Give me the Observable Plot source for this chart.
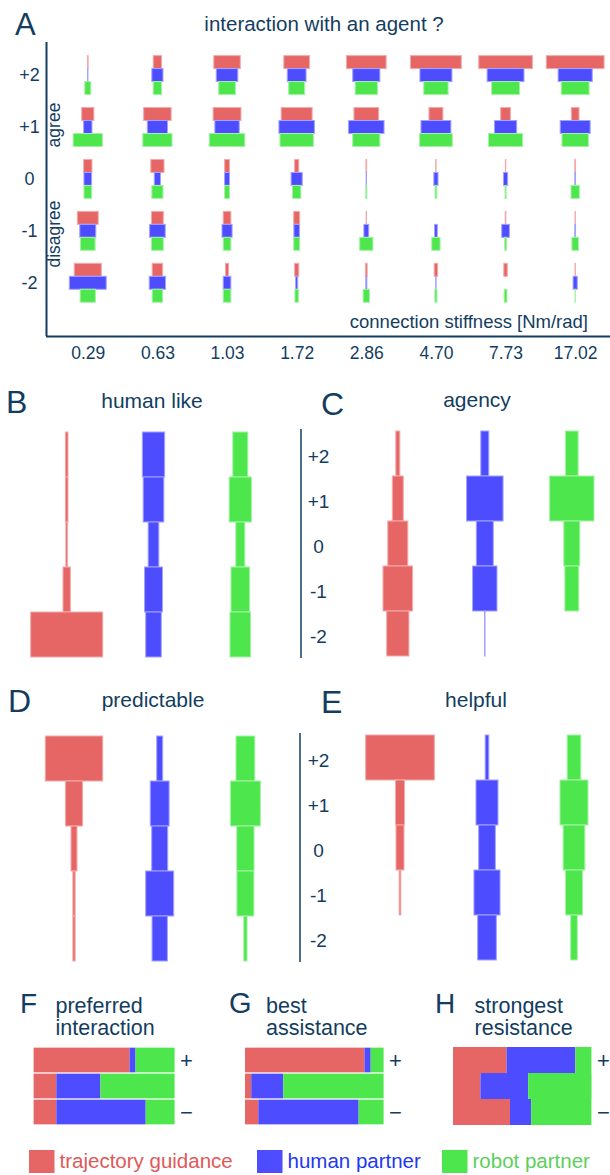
<!DOCTYPE html>
<html><head><meta charset="utf-8">
<script src="https://cdn.jsdelivr.net/npm/d3@7"></script>
<script src="https://cdn.jsdelivr.net/npm/@observablehq/plot@0.6"></script>
<style>
html,body{margin:0;padding:0;background:#fff;}
#root{position:relative;width:610px;height:1175px;overflow:hidden;background:#fff;}
</style></head><body><div id="root"></div>
<script>
// ---------- DATA ----------
const seriesNames = ["trajectory guidance", "human partner", "robot partner"];
const levels = ["+2", "+1", "0", "-1", "-2"];
const stiffness = ["0.29", "0.63", "1.03", "1.72", "2.86", "4.70", "7.73", "17.02"];

// Panel A: share of answers (%) per level (rows +2..-2) and stiffness (columns)
const agentGuidance = [
  [1, 12, 38, 37, 57, 73, 77, 83],
  [17.5, 39.5, 40, 44.5, 35.5, 20, 14, 11],
  [12, 19, 7, 6, 1, 0.5, 0.5, 1],
  [30, 17, 11, 8.5, 0.5, 0, 1, 0.5],
  [39, 15, 4.5, 6, 2.5, 5, 5, 0.5]
];
const agentHuman = [
  [0.5, 16, 31, 27, 39, 46, 53, 49],
  [12, 29, 35, 51, 51, 43, 32, 43],
  [11, 9, 7, 16, 0.5, 6, 6, 1],
  [23, 22.5, 14.5, 8, 7, 4, 11, 1],
  [53, 23.5, 11, 3, 1.5, 0.5, 0, 6]
];
const agentRobot = [
  [8.6, 12, 24, 23, 32, 35, 40, 40],
  [42, 42, 51, 48, 39, 47, 49, 38],
  [11, 16, 7, 12, 1.5, 2.5, 1.5, 12],
  [21, 17, 11, 8.5, 19, 12, 2.5, 9.5],
  [22, 15, 11, 5, 9, 3, 4, 0.5]
];

// Panels B-E: share of answers (%) per level +2..-2, for [guidance, human, robot]
const humanLike = [[3, 3, 2, 8.5, 83], [25.7, 23.8, 12.3, 20.7, 18], [17.3, 25.7, 10.4, 21.5, 23.8]];
const agency = [[4.6, 12.6, 23, 34, 25.6], [9.2, 42, 19.5, 28, 0.5], [14.6, 51, 18.4, 16, 0]];
const predictable = [[67, 20, 7, 2.7, 2.7], [7, 22, 18.7, 32.7, 17.9], [22, 35, 20.2, 19.8, 3.9]];
const helpful = [[79, 10.3, 9.2, 2, 0], [4.2, 25.3, 19.2, 30, 21.5], [15.7, 32.2, 25, 19.5, 7.7]];

// Panels F-H: share (%) per row [+, neutral, -] for [guidance, human, robot]
const stackRows = ["+", "0", "−"];
const preferred = [[68.1, 4.2, 27.7], [16.1, 31.3, 52.6], [16.1, 63.4, 20.5]];
const bestAssist = [[86.2, 4.5, 9.3], [4.5, 23.1, 72.4], [9.6, 72.4, 18]];
const strongestRes = [[38.7, 49.7, 11.6], [19.8, 34.5, 45.8], [41.2, 15.3, 43.5]];

// ---------- STYLE ----------
const colors = ["#e66666", "#4d4dff", "#4de64d"];
const strokes = ["#f4aaaa", "#a2a2ff", "#a6f2a6"];
const legendText = ["#de5959", "#2238f0", "#5ccf5c"];
const navy = "#133d60";
const font = "'Liberation Sans', Arial, Helvetica, sans-serif";
const root = document.getElementById("root");
const baseStyle = {background: "transparent", color: navy, fontFamily: font, overflow: "visible"};
function place(svg, top) {
  svg.style.position = "absolute";
  svg.style.left = "0px";
  svg.style.top = top + "px";
  root.appendChild(svg);
}

// ---------- PANEL A ----------
const rowsA = [];
[agentGuidance, agentHuman, agentRobot].forEach((m, s) =>
  m.forEach((row, li) => row.forEach((v, c) => rowsA.push({s, level: 2 - li, c, v}))));
const yDomA = [-12.1, 10.55];
place(Plot.plot({
  width: 610, height: 370, marginLeft: 46, marginRight: 0, marginTop: 42, marginBottom: 34,
  style: baseStyle,
  x: {domain: [-10, 800], axis: null},
  y: {domain: yDomA, axis: null},
  color: {type: "identity"},
  marks: [
    Plot.rect(rowsA, {
      x1: d => 100 * d.c + 50 - d.v / 2, x2: d => 100 * d.c + 50 + d.v / 2,
      y1: d => 4 * d.level + 0.5 - d.s, y2: d => 4 * d.level + 1.5 - d.s,
      fill: d => colors[d.s], stroke: d => strokes[d.s], strokeWidth: 1
    }),
    Plot.ruleX([-10], {stroke: navy, strokeWidth: 2}),
    Plot.ruleY([yDomA[0]], {stroke: navy, strokeWidth: 2}),
    Plot.axisY({ticks: [8, 4, 0, -4, -8], tickFormat: d => levels[(8 - d) / 4], tickSize: 0, tickPadding: 17, textAnchor: "middle", fontSize: 18, label: null}),
    Plot.axisX({ticks: stiffness.map((_, i) => 100 * i + 50), tickFormat: d => stiffness[Math.round((d - 50) / 100)], tickSize: 0, tickPadding: 10, fontSize: 17.5, label: null})
  ]
}), 0);

// ---------- PANELS B-E ----------
function stepPanel(values, cfg) {
  const rows = [];
  values.forEach((arr, s) => arr.forEach((v, li) => rows.push({s, level: levels[li], v})));
  const marks = [
    Plot.barX(rows, {
      x1: d => 100 * d.s + 50 - d.v / 2, x2: d => 100 * d.s + 50 + d.v / 2, y: "level",
      fill: d => colors[d.s], stroke: d => strokes[d.s], strokeWidth: 1
    })
  ];
  if (cfg.axisAt != null) {
    marks.push(Plot.ruleX([(cfg.axisAt - cfg.offset) / cfg.k], {stroke: navy, strokeWidth: 1.5}));
    marks.push(Plot.axisY({anchor: "left", tickSize: 0, tickPadding: 0, textAnchor: "middle", dx: cfg.labelAt - cfg.offset, dy: 3, fontSize: 19, label: null}));
  }
  place(Plot.plot({
    width: 610, height: cfg.height,
    marginTop: cfg.yTop - cfg.top, marginBottom: cfg.top + cfg.height - cfg.yBottom,
    marginLeft: cfg.offset, marginRight: 610 - cfg.offset - 290 * cfg.k,
    style: baseStyle,
    x: {domain: [0, 290], axis: null},
    y: {domain: levels, padding: 0, axis: null, label: null},
    color: {type: "identity"},
    marks
  }), cfg.top);
}
stepPanel(humanLike, {top: 420, height: 250, yTop: 430, yBottom: 659, offset: 23.3, k: 0.868});
stepPanel(agency, {top: 420, height: 250, yTop: 429, yBottom: 658, offset: 354.3, k: 0.87, axisAt: 300.5, labelAt: 318});
stepPanel(predictable, {top: 725, height: 250, yTop: 735.7, yBottom: 961.7, offset: 31.15, k: 0.857});
stepPanel(helpful, {top: 725, height: 250, yTop: 733, yBottom: 962, offset: 356.5, k: 0.87, axisAt: 299.5, labelAt: 318});

// ---------- PANELS F-H ----------
function stackPanel(values, cfg) {
  const rows = [];
  values.forEach((arr, r) => arr.forEach((v, s) => rows.push({row: stackRows[r], s, v})));
  place(Plot.plot({
    width: 610, height: 90, marginTop: 6, marginBottom: 4.3,
    marginLeft: cfg.left, marginRight: 610 - cfg.right,
    style: baseStyle,
    x: {domain: [0, 100], axis: null},
    y: {domain: stackRows, padding: 0, axis: null, label: null},
    color: {type: "identity"},
    marks: [
      Plot.barX(rows, {x: "v", y: "row", fill: d => colors[d.s], insetTop: cfg.gap, insetBottom: cfg.gap}),
      Plot.axisY({anchor: "right", ticks: ["+", "−"], tickSize: 0, tickPadding: 5, fontSize: 22, label: null})
    ]
  }), 1040);
}
stackPanel(preferred, {left: 33.6, right: 174.6, gap: 0.65});
stackPanel(bestAssist, {left: 245, right: 383.6, gap: 0.65});
stackPanel(strongestRes, {left: 453, right: 591.4, gap: 0});

// ---------- TEXT OVERLAY ----------
const ov = d3.select(root).append("svg")
  .attr("width", 610).attr("height", 1175)
  .style("position", "absolute").style("left", "0px").style("top", "0px")
  .style("pointer-events", "none").style("font-family", font);
const labels = [
  {t: "A", x: 15, y: 35, s: 31},
  {t: "interaction with an agent ?", x: 324, y: 31, s: 20.5, a: "middle"},
  {t: "agree", x: 60, y: 125, s: 17.5, a: "middle", r: -90},
  {t: "disagree", x: 60, y: 234, s: 17.5, a: "middle", r: -90},
  {t: "connection stiffness [Nm/rad]", x: 588, y: 328, s: 18.5, a: "end"},
  {t: "B", x: 6, y: 413, s: 32},
  {t: "human like", x: 152, y: 408, s: 21, a: "middle"},
  {t: "C", x: 321, y: 415, s: 32},
  {t: "agency", x: 477, y: 407, s: 21, a: "middle"},
  {t: "D", x: 8, y: 712, s: 32},
  {t: "predictable", x: 153, y: 707, s: 21, a: "middle"},
  {t: "E", x: 321, y: 713, s: 32},
  {t: "helpful", x: 476, y: 707, s: 21, a: "middle"},
  {t: "F", x: 20, y: 1013, s: 28},
  {t: "preferred", x: 55.5, y: 1012.7, s: 21.5},
  {t: "interaction", x: 55.5, y: 1035, s: 21.5},
  {t: "G", x: 229, y: 1013, s: 29},
  {t: "best", x: 266, y: 1012.7, s: 21.5},
  {t: "assistance", x: 266, y: 1035, s: 21.5},
  {t: "H", x: 435, y: 1013, s: 28},
  {t: "strongest", x: 474.6, y: 1012.7, s: 21.5},
  {t: "resistance", x: 474.6, y: 1035, s: 21.5}
];
labels.forEach(l => {
  ov.append("text")
    .attr("transform", `translate(${l.x},${l.y})` + (l.r ? ` rotate(${l.r})` : ""))
    .attr("text-anchor", l.a || "start")
    .attr("font-size", l.s)
    .attr("fill", navy)
    .text(l.t);
});
// legend
const legendX = [29, 257, 442];
seriesNames.forEach((name, i) => {
  ov.append("rect").attr("x", legendX[i]).attr("y", 1150).attr("width", 25.5).attr("height", 23).attr("fill", colors[i]);
  ov.append("text").attr("x", legendX[i] + 30.5).attr("y", 1168.3).attr("font-size", 20.5).attr("fill", legendText[i]).text(name);
});
</script></body></html>
